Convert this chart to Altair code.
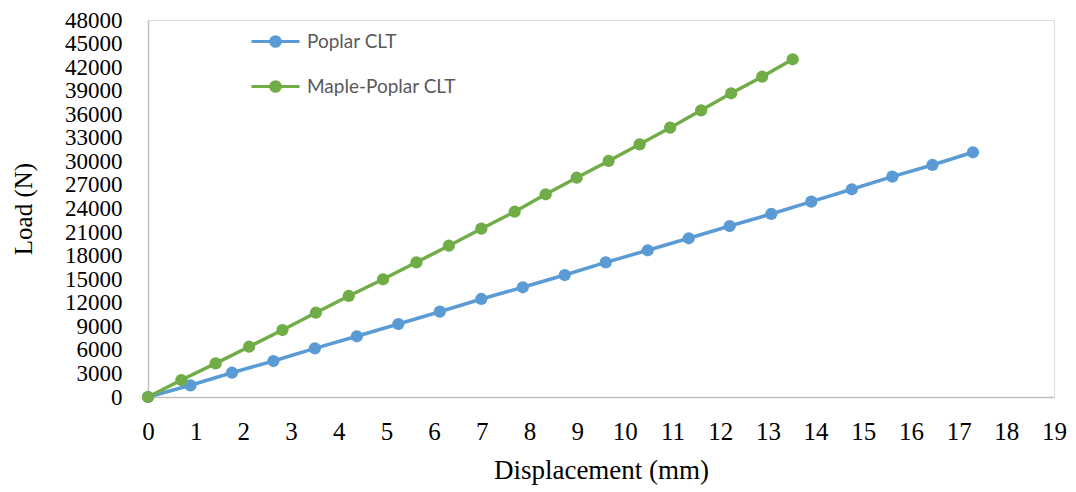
import altair as alt
import pandas as pd

series_names = ["Poplar CLT", "Maple-Poplar CLT"]
series_colors = ["#5B9BD5", "#70AD47"]

poplar_disp = [0, 0.89, 1.76, 2.63, 3.50, 4.38, 5.25, 6.12, 6.99, 7.86, 8.74,
               9.60, 10.48, 11.34, 12.20, 13.07, 13.91, 14.76, 15.61, 16.45, 17.30]
poplar_load = [0, 1490, 3090, 4580, 6200, 7730, 9290, 10860, 12480, 13970, 15530,
               17150, 18680, 20210, 21770, 23300, 24870, 26450, 28050, 29540, 31160]

maple_disp = [0, 0.70, 1.42, 2.12, 2.82, 3.52, 4.21, 4.93, 5.63, 6.31, 6.99,
              7.69, 8.34, 8.99, 9.66, 10.31, 10.95, 11.60, 12.23, 12.88, 13.52]
maple_load = [0, 2160, 4290, 6400, 8530, 10730, 12860, 14990, 17150, 19260, 21430,
              23590, 25810, 27920, 30050, 32170, 34290, 36500, 38670, 40780, 43000]

x_ticks = list(range(0, 20))
y_ticks = list(range(0, 48001, 3000))

df = pd.concat([
    pd.DataFrame({"Displacement": poplar_disp, "Load": poplar_load,
                  "Series": series_names[0], "order": range(len(poplar_disp))}),
    pd.DataFrame({"Displacement": maple_disp, "Load": maple_load,
                  "Series": series_names[1], "order": range(len(maple_disp))}),
])

serif = "Liberation Serif"

x_enc = alt.X("Displacement:Q",
              scale=alt.Scale(domain=[0, 19], nice=False, zero=True),
              axis=alt.Axis(values=x_ticks, title="Displacement (mm)", grid=False,
                            ticks=False, domainColor="#BFBFBF", domainWidth=1.5,
                            labelFont=serif, labelFontSize=25, labelColor="#000000",
                            labelPadding=22, labelOverlap=False, labelFlush=False,
                            titleFont=serif, titleFontSize=27, titleFontWeight="normal",
                            titleColor="#000000", titlePadding=13))
y_enc = alt.Y("Load:Q",
              scale=alt.Scale(domain=[0, 48000], nice=False),
              axis=alt.Axis(values=y_ticks, title="Load (N)", grid=False, format="d",
                            ticks=False, domainColor="#BFBFBF", domainWidth=1.5,
                            labelFont=serif, labelFontSize=23, labelColor="#000000",
                            labelPadding=26, labelOverlap=False, labelFlush=False,
                            titleFont=serif, titleFontSize=25, titleFontWeight="normal",
                            titleColor="#000000", titlePadding=28))

color_scale = alt.Scale(domain=series_names, range=series_colors)

legend = alt.Legend(
    title=None, orient="none", legendX=114, legendY=8, padding=0,
    symbolType="M-2,0H2M-0.4,0A0.4,0.4,0,1,0,0.4,0A0.4,0.4,0,1,0,-0.4,0Z",
    symbolSize=576, symbolStrokeWidth=3, rowPadding=20, labelOffset=18,
    labelFont="Lato", labelFontSize=19, labelColor="#595959", labelLimit=400,
    symbolOpacity=1,
)

lines = alt.Chart(df).mark_line(strokeWidth=3.5).encode(
    x=x_enc, y=y_enc,
    color=alt.Color("Series:N", scale=color_scale, legend=legend,
                    sort=series_names),
    order="order:Q",
)
points = alt.Chart(df).mark_point(filled=True, size=150, opacity=1).encode(
    x=x_enc, y=y_enc,
    color=alt.Color("Series:N", scale=color_scale, legend=legend, sort=series_names),
)

chart = alt.layer(lines, points).properties(
    width=906, height=377,
    autosize=alt.AutoSizeParams(type="none"),
    padding={"left": 140, "top": 12, "right": 14, "bottom": 95},
).configure_view(stroke=None).configure(background="white")

chart.save("out.html", embed_options={"renderer": "svg", "actions": False})
